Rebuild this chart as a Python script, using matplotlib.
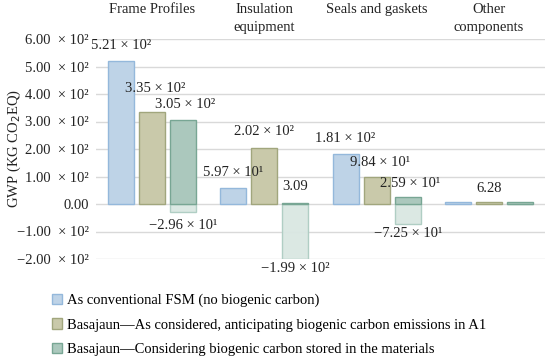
import matplotlib
matplotlib.use("Agg")
import matplotlib.pyplot as plt
import matplotlib.transforms as mtransforms
from matplotlib.patches import Patch
import numpy as np

categories = ["Frame Profiles", "Insulation\nequipment", "Seals and gaskets", "Other\ncomponents"]
conventional = [521, 59.7, 181, 6.28]
anticipating = [335, 202, 98.4, 6.28]
stored_pos = [305, 3.09, 25.9, 6.28]
stored_neg = [-29.6, -199, -72.5, 0.0]
series_names = ["As conventional FSM (no biogenic carbon)",
                "Basajaun\u2014As considered, anticipating biogenic carbon emissions in A1",
                "Basajaun\u2014Considering biogenic carbon stored in the materials"]
yticks = [-200, -100, 0, 100, 200, 300, 400, 500, 600]

plt.rcParams['font.family'] = ['Liberation Serif', 'DejaVu Serif']
FS = 10.5

def sci(v):
    if v == 0:
        return "0.00"
    sup = {"0": "\u2070", "1": "\u00b9", "2": "\u00b2", "3": "\u00b3"}
    e = int(np.floor(np.log10(abs(v))))
    if e == 0:
        s = f"{abs(v):.2f}"
    else:
        s = f"{abs(v) / 10**e:.2f} \u00d7 10{sup[str(e)]}"
    return ("\u2212" if v < 0 else "") + s

def tickfmt(v):
    if v == 0:
        return "0.00"
    s = sci(v)
    return s.replace(" \u00d7", "  \u00d7")

fig = plt.figure(figsize=(5.5, 3.62), dpi=100)
ax = fig.add_axes([96/550, 1-259/362, 449/550, 220/362])

c_blue = (0.745, 0.827, 0.906); e_blue = (0.58, 0.72, 0.86)
c_olive = (0.79, 0.79, 0.665); e_olive = (0.63, 0.65, 0.49)
c_teal = (0.67, 0.785, 0.74); e_teal = (0.47, 0.65, 0.58)
c_neg = (0.85, 0.905, 0.885); e_neg = (0.68, 0.8, 0.76)

x = np.arange(len(categories))
w = 0.232
gap = 0.045
offs = [-(w + gap), 0, (w + gap)]

for i, (vals, fc, ec) in enumerate([(conventional, c_blue, e_blue), (anticipating, c_olive, e_olive), (stored_pos, c_teal, e_teal)]):
    ax.bar(x + offs[i], vals, width=w, color=fc, edgecolor=ec, linewidth=1.0, zorder=3)
ax.bar(x + offs[2], stored_neg, width=w, color=c_neg, edgecolor=e_neg, linewidth=1.0, zorder=2, alpha=0.95)

# label offsets in pixels (dx, dy)
lab_off = {(0, 0): (0, 15), (0, 1): (3, 23), (0, 2): (2, 16),
           (1, 0): (0, 15), (1, 1): (0, 17), (1, 2): (0, 17),
           (2, 0): (0, 16), (2, 1): (3, 14), (2, 2): (2, 13),
           (3, 1): (0, 14)}
neg_off = {0: -13, 1: -10, 2: -10}
for j in range(len(categories)):
    for i, vals in enumerate([conventional, anticipating, stored_pos]):
        if (j, i) not in lab_off:
            continue
        v = vals[j]
        dx, dy = lab_off[(j, i)]
        ax.annotate(sci(v), (x[j] + offs[i], v), xytext=(dx * 0.72, dy * 0.72),
                    textcoords='offset points', ha='center', va='center', fontsize=FS, color='#222222')
    v = stored_neg[j]
    if v < 0:
        ax.annotate(sci(v), (x[j] + offs[2], v), xytext=(0, neg_off[j] * 0.72),
                    textcoords='offset points', ha='center', va='center', fontsize=FS, color='#222222')

ax.set_xlim(-0.5, len(categories) - 0.5)
ax.set_ylim(-200, 600)
ax.set_yticks(yticks)
ax.set_yticklabels([tickfmt(v) for v in yticks], fontsize=FS, color='#222222')
ax.set_xticks([])
ax.tick_params(axis='y', length=0, pad=5)
ax.grid(axis='y', color='#d9d9d9', linewidth=1.0, zorder=0)
ax.set_axisbelow(True)
for s in ax.spines.values():
    s.set_visible(False)

trans = mtransforms.blended_transform_factory(ax.transData, ax.transAxes)
for j, c in enumerate(categories):
    ax.text(x[j], (259 - 3) / 220, c, transform=trans, ha='center', va='top', fontsize=FS,
            color='#222222', linespacing=1.5)

ax.set_ylabel("GWP (KG CO$_2$EQ)", fontsize=FS, color='#222222')
ax.yaxis.set_label_coords(-0.163, 0.5)

handles = [Patch(facecolor=c_blue, edgecolor=e_blue), Patch(facecolor=c_olive, edgecolor=e_olive),
           Patch(facecolor=c_teal, edgecolor=e_teal)]
fig.legend(handles, series_names, loc='upper left', bbox_to_anchor=(52/550, 1-294/362), frameon=False,
           fontsize=FS, handlelength=0.7, handleheight=0.7, handletextpad=0.3, labelspacing=0.75,
           borderaxespad=0, borderpad=0)

fig.savefig("out.png", dpi=100)
